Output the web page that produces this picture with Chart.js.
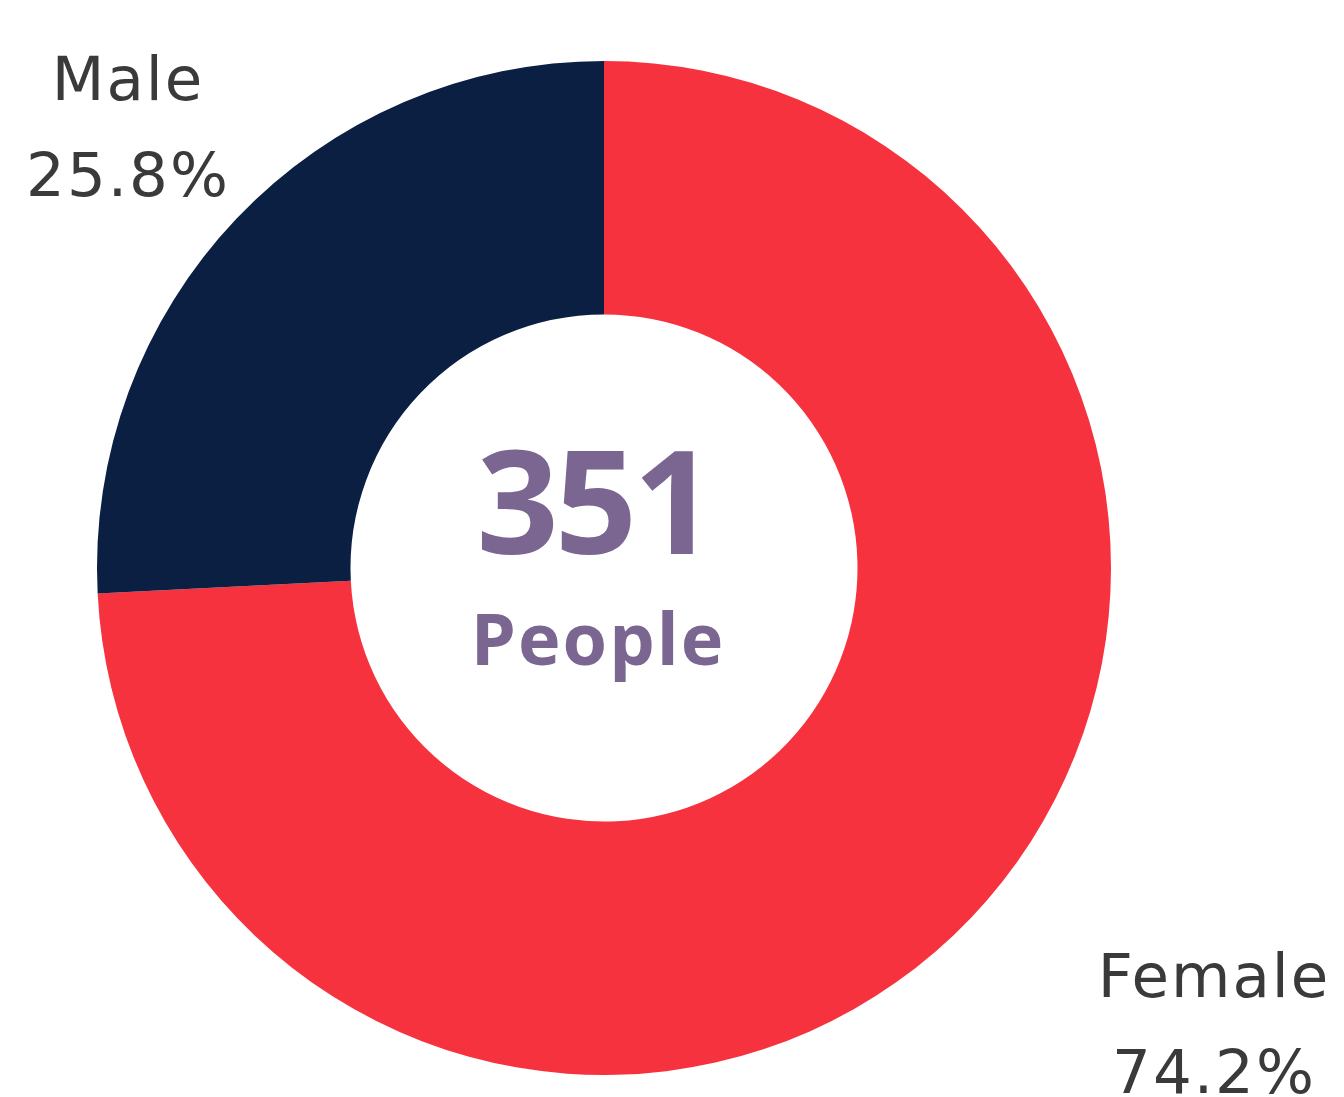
<!DOCTYPE html>
<html>
<head>
<meta charset="utf-8">
<script src="https://cdn.jsdelivr.net/npm/chart.js@4/dist/chart.umd.min.js"></script>
<style>
    html, body { margin: 0; padding: 0; background: #fff; }
    #wrap { width: 1344px; height: 1097px; }
</style>
</head>
<body>
<div id="wrap"><canvas id="genderChart"></canvas></div>
<script>
const genderLabels = ['Female', 'Male'];
const genderShares = [74.2, 25.8];
const genderColors = ['#F7323F', '#0B1F42'];
const totalPeople = 351;

// nhãn tên + phần trăm đặt ở góc của từng phần
const sliceLabels = {
    id: 'sliceLabels',
    afterDraw(chart) {
        const ctx = chart.ctx;
        const arc = chart.getDatasetMeta(0).data[0];
        const cx = arc.x, cy = arc.y;
        const spots = [
            { x: cx + 610, y: cy + 429 },   // Female
            { x: cx - 476, y: cy - 468 }    // Male
        ];
        ctx.save();
        ctx.fillStyle = '#3a3a3a';
        ctx.textAlign = 'center';
        ctx.textBaseline = 'alphabetic';
        ctx.font = '400 61px "DejaVu Sans", sans-serif';
        ctx.letterSpacing = '2px';
        genderLabels.forEach((name, i) => {
            const p = spots[i];
            ctx.fillText(name, p.x, p.y);
            ctx.fillText(genderShares[i].toFixed(1) + '%', p.x, p.y + 96);
        });
        ctx.restore();
    }
};

// tổng số người ở giữa vòng
const centerText = {
    id: 'centerText',
    afterDraw(chart) {
        const ctx = chart.ctx;
        const arc = chart.getDatasetMeta(0).data[0];
        ctx.save();
        ctx.fillStyle = '#7A6690';
        ctx.textAlign = 'center';
        ctx.textBaseline = 'alphabetic';
        ctx.font = 'bold 144px "Open Sans", sans-serif';
        ctx.letterSpacing = '-4px';
        ctx.fillText(String(totalPeople), arc.x - 10, arc.y - 14);
        ctx.font = 'bold 72px "Open Sans", sans-serif';
        ctx.letterSpacing = '2px';
        ctx.fillText('People', arc.x - 6, arc.y + 97);
        ctx.restore();
    }
};

new Chart(document.getElementById('genderChart').getContext('2d'), {
    type: 'doughnut',
    data: {
        labels: genderLabels,
        datasets: [{
            data: genderShares,
            backgroundColor: genderColors,
            borderWidth: 0
        }]
    },
    options: {
        responsive: true,
        maintainAspectRatio: false,
        animation: false,
        cutout: '50%',
        layout: { padding: { left: 97, right: 233, top: 61, bottom: 22 } },
        plugins: {
            legend: { display: false },
            tooltip: { enabled: false }
        }
    },
    plugins: [sliceLabels, centerText]
});
</script>
</body>
</html>
